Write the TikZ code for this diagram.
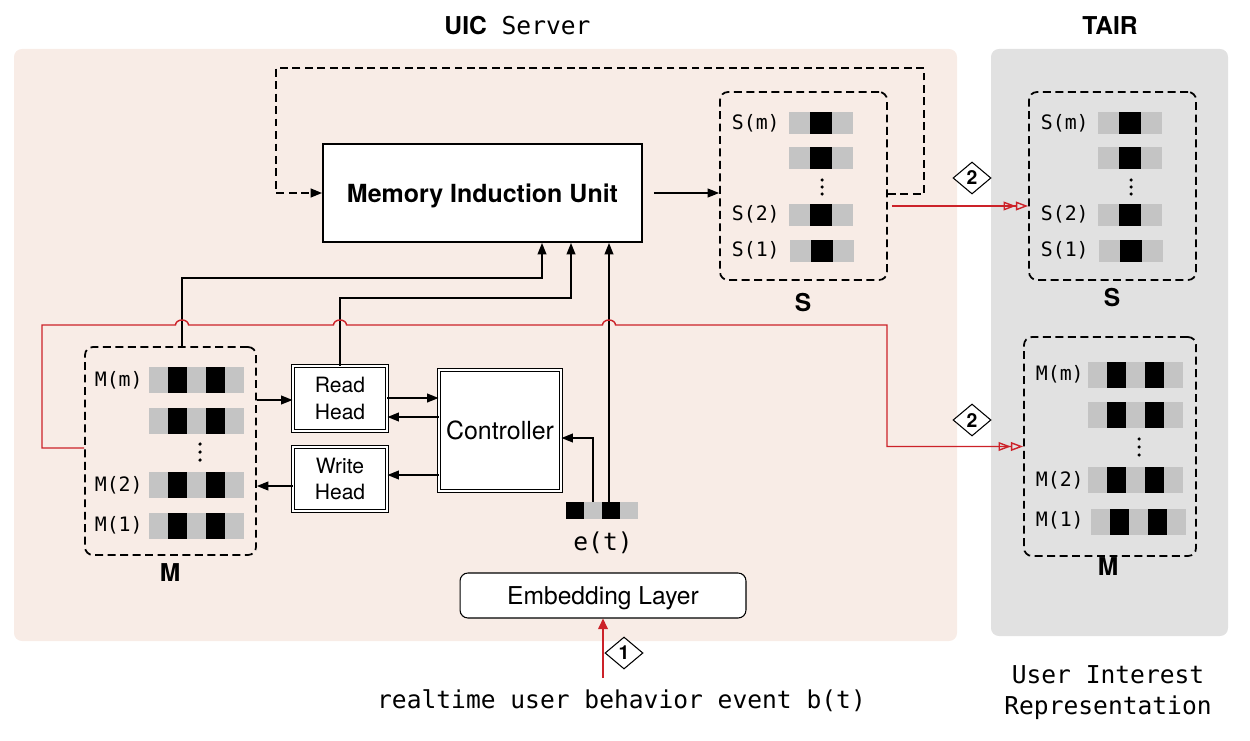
\documentclass[tikz,border=0pt]{standalone}
\usepackage{fontspec}
\setmainfont{TeX Gyre Heros}
\setsansfont{TeX Gyre Heros}
\setmonofont{DejaVu Sans Mono}
\usetikzlibrary{arrows.meta,shapes.geometric,calc}
\definecolor{uicbg}{RGB}{248,236,230}
\definecolor{tairbg}{RGB}{225,225,225}
\definecolor{barg}{RGB}{196,196,196}
\definecolor{redl}{RGB}{204,34,41}
\begin{document}
\begin{tikzpicture}[x=0.02cm,y=-0.02cm,
  arr/.style={line width=0.85pt,-{Triangle[length=6.5pt,width=5pt]}},
  dashline/.style={line width=1pt,dash pattern=on 4.5pt off 2.6pt},
  dashbox/.style={draw,line width=1pt,dash pattern=on 4.5pt off 2.6pt,rounded corners=4.5pt,inner sep=0},
  redline/.style={draw=redl,line width=0.8pt},
  dblopen/.style={-{Triangle[open,length=7pt,width=5pt] Triangle[open,length=7pt,width=5pt]}},
  dbox/.style={draw,double,double distance=1.3pt,line width=0.55pt,fill=white,inner sep=0,align=center},
  lab/.style={font=\ttfamily\fontsize{11.3}{13}\selectfont,inner sep=0},
  diam/.style={shape=diamond,draw,fill=white,line width=0.6pt,inner sep=0,minimum width=0.76cm,minimum height=0.64cm,font=\bfseries\fontsize{11}{11}\selectfont},
  big/.style={font=\bfseries\fontsize{14}{17}\selectfont,inner sep=0},
  mono/.style={font=\ttfamily\fontsize{14}{17.6}\selectfont,inner sep=0},
  mrow/.pic={\foreach \i/\cl in {0/barg,1/black,2/barg,3/black,4/barg}{\fill[\cl] (\i*19,-13) rectangle ++(19,26);}},
  srow/.pic={\foreach \i/\cl in {0/barg,1/black,2/barg}{\fill[\cl] (\i*21.33,-11) rectangle ++(21.33,22);}},
  erow/.pic={\foreach \i/\cl in {0/black,1/barg,2/black,3/barg}{\fill[\cl] (\i*18,-8.5) rectangle ++(18,17);}}
]
\useasboundingbox (0,0) rectangle (1250,740);
% backgrounds
\fill[uicbg,rounded corners=4.5pt] (14,49) rectangle (957,641);
\fill[tairbg,rounded corners=4.5pt] (991,49) rectangle (1228,636);
% titles
\node[anchor=base,inner sep=0] (title) at (517.5,35) {\fontsize{14}{17}\selectfont\textbf{UIC}\texttt{\ Server}};
\node[anchor=base,inner sep=0,font=\bfseries\fontsize{14}{17}\selectfont] (tair) at (1110,35) {TAIR};
% helper coordinates
\coordinate (vA) at (182,0);
\coordinate (vB) at (542,0);
\coordinate (vC) at (571,0);
\coordinate (vD) at (609,0);
\coordinate (vE) at (593,0);
\coordinate (vR) at (887,0);
\coordinate (vL) at (42,0);
\coordinate (vT) at (924,0);
\coordinate (vU) at (276,0);
\coordinate (hA) at (0,278);
\coordinate (hB) at (0,298);
\coordinate (hRed) at (0,325);
\coordinate (hTop) at (0,68);
\coordinate (h194) at (0,194);
\coordinate (h398) at (0,398);
\coordinate (h400) at (0,400);
\coordinate (h417) at (0,417);
\coordinate (h438) at (0,438);
\coordinate (h448) at (0,448);
\coordinate (h475) at (0,475);
\coordinate (h486) at (0,486);
\coordinate (btop) at (603,678);
% main nodes
\node[draw,line width=1.1pt,fill=white,minimum width=6.38cm,minimum height=1.96cm,text depth=0pt,font=\bfseries\fontsize{14.2}{17}\selectfont] (MIU) at (482.5,193) {Memory Induction Unit};
\node[dbox,minimum width=1.88cm,minimum height=1.3cm,font=\fontsize{12}{15.3}\selectfont] (RH) at (340,398.5) {Read\\Head};
\node[dbox,minimum width=1.88cm,minimum height=1.28cm,font=\fontsize{12}{15.3}\selectfont] (WH) at (340,479) {Write\\Head};
\node[dbox,minimum width=2.44cm,minimum height=2.42cm,font=\fontsize{14.2}{17}\selectfont] (ctrl) at (500,430.5) {Controller};
\node[draw,line width=0.6pt,rounded corners=4.5pt,fill=white,minimum width=5.72cm,minimum height=0.9cm,text depth=0pt,font=\fontsize{14}{17}\selectfont] (EMB) at (603,595.5) {Embedding Layer};
% dashed boxes
\node[dashbox,minimum width=3.42cm,minimum height=4.16cm] (Mbox) at (170.5,451) {};
\node[dashbox,minimum width=3.34cm,minimum height=3.76cm] (Sbox) at (803.5,186) {};
\node[dashbox,minimum width=3.34cm,minimum height=3.76cm] (TSbox) at (1112.5,186) {};
\node[dashbox,minimum width=3.44cm,minimum height=4.38cm] (TMbox) at (1110,446.5) {};
% UIC M rows
\pic at (149,380) {mrow};
\pic at (149,420.5) {mrow};
\pic at (149,485) {mrow};
\pic at (149,525.5) {mrow};
\node[lab,anchor=east] (mlm) at (143,380) {M(m)};
\node[lab,anchor=east] (ml2) at (143,485) {M(2)};
\node[lab,anchor=east] (ml1) at (143,525) {M(1)};
\foreach \yy in {444,452,460} \fill (200,\yy) circle[radius=1pt];
\node[big] (Mlab) at (170,573) {M};
% TAIR M rows
\pic at (1088,374.5) {mrow};
\pic at (1088,414.5) {mrow};
\pic at (1088,480) {mrow};
\pic at (1091,521.5) {mrow};
\node[lab,anchor=east] (tmlm) at (1084,374.5) {M(m)};
\node[lab,anchor=east] (tml2) at (1084,480) {M(2)};
\node[lab,anchor=east] (tml1) at (1084,520) {M(1)};
\foreach \yy in {439,447,455} \fill (1139,\yy) circle[radius=1pt];
\node[big] (TMlab) at (1108,567) {M};
% UIC S rows
\pic at (789,123) {srow};
\pic at (789,158) {srow};
\pic at (789,214.5) {srow};
\pic at (790,251) {srow};
\node[lab,anchor=east] (slm) at (780,123) {S(m)};
\node[lab,anchor=east] (sl2) at (780,214.5) {S(2)};
\node[lab,anchor=east] (sl1) at (780,250) {S(1)};
\foreach \yy in {180,187,194} \fill (822,\yy) circle[radius=1pt];
\node[big] (Slab) at (803,303) {S};
% TAIR S rows
\pic at (1098,123) {srow};
\pic at (1098,158) {srow};
\pic at (1098,214.5) {srow};
\pic at (1099,251) {srow};
\node[lab,anchor=east] (tslm) at (1089,123) {S(m)};
\node[lab,anchor=east] (tsl2) at (1089,214.5) {S(2)};
\node[lab,anchor=east] (tsl1) at (1089,250) {S(1)};
\foreach \yy in {180,187,194} \fill (1131,\yy) circle[radius=1pt];
\node[big] (TSlab) at (1112,298) {S};
% e(t)
\node[inner sep=0,minimum width=1.44cm,minimum height=0.34cm] (et) at (602,510.5) {};
\pic at (566,510.5) {erow};
\node[mono] (etl) at (603,543) {e(t)};
% bottom texts
\node[mono] (bt) at (621.5,701) {realtime user behavior event b(t)};
\node[mono,align=center] (uir) at (1108,693) {User Interest\\Representation};
% black connectors
\draw[arr] (Mbox.north -| vA) |- (hA -| vB) -- (MIU.south -| vB);
\draw[arr] (RH.north) |- (hB -| vC) -- (MIU.south -| vC);
\draw[arr] (et.north -| vD) -- (MIU.south -| vD);
\draw[arr] (et.north -| vE) |- (ctrl.east |- h438);
\draw[arr] (RH.east |- h398) -- (ctrl.west |- h398);
\draw[arr] (ctrl.west |- h417) -- (RH.east |- h417);
\draw[arr] (ctrl.west |- h475) -- (WH.east |- h475);
\draw[arr] (Mbox.east |- h400) -- (RH.west |- h400);
\draw[arr] (WH.west |- h486) -- (Mbox.east |- h486);
\draw[arr] ($(MIU.east)+(11,0)$) -- (Sbox.west |- MIU.east);
\draw[arr,dashline] (Sbox.east |- h194) -| (hTop -| vT) -| (vU |- MIU.west) -- (MIU.west);
% red connectors
\draw[redline,dblopen] (Mbox.west |- h448) -| (vL |- hRed)
  -- ($(vA |- hRed)+(-6.5,0)$) arc[start angle=180,end angle=0,x radius=0.13cm,y radius=0.1cm]
  -- ($(RH.north |- hRed)+(-6.5,0)$) arc[start angle=180,end angle=0,x radius=0.13cm,y radius=0.1cm]
  -- ($(vD |- hRed)+(-6.5,0)$) arc[start angle=180,end angle=0,x radius=0.13cm,y radius=0.1cm]
  -- (vR |- hRed) |- (TMbox.west);
\draw[redline,dblopen] ($(Sbox.east)+(4,20)$) -- ($(TSbox.west)+(0,20)$);
\draw[redline,-{Triangle[length=6pt,width=5.5pt]}] (btop) -- (EMB.south);
% diamonds
\node[diam] (d1) at (624,653) {1};
\node[diam] (d2a) at (972,178) {2};
\node[diam] (d2b) at (972,420) {2};
\end{tikzpicture}
\end{document}
